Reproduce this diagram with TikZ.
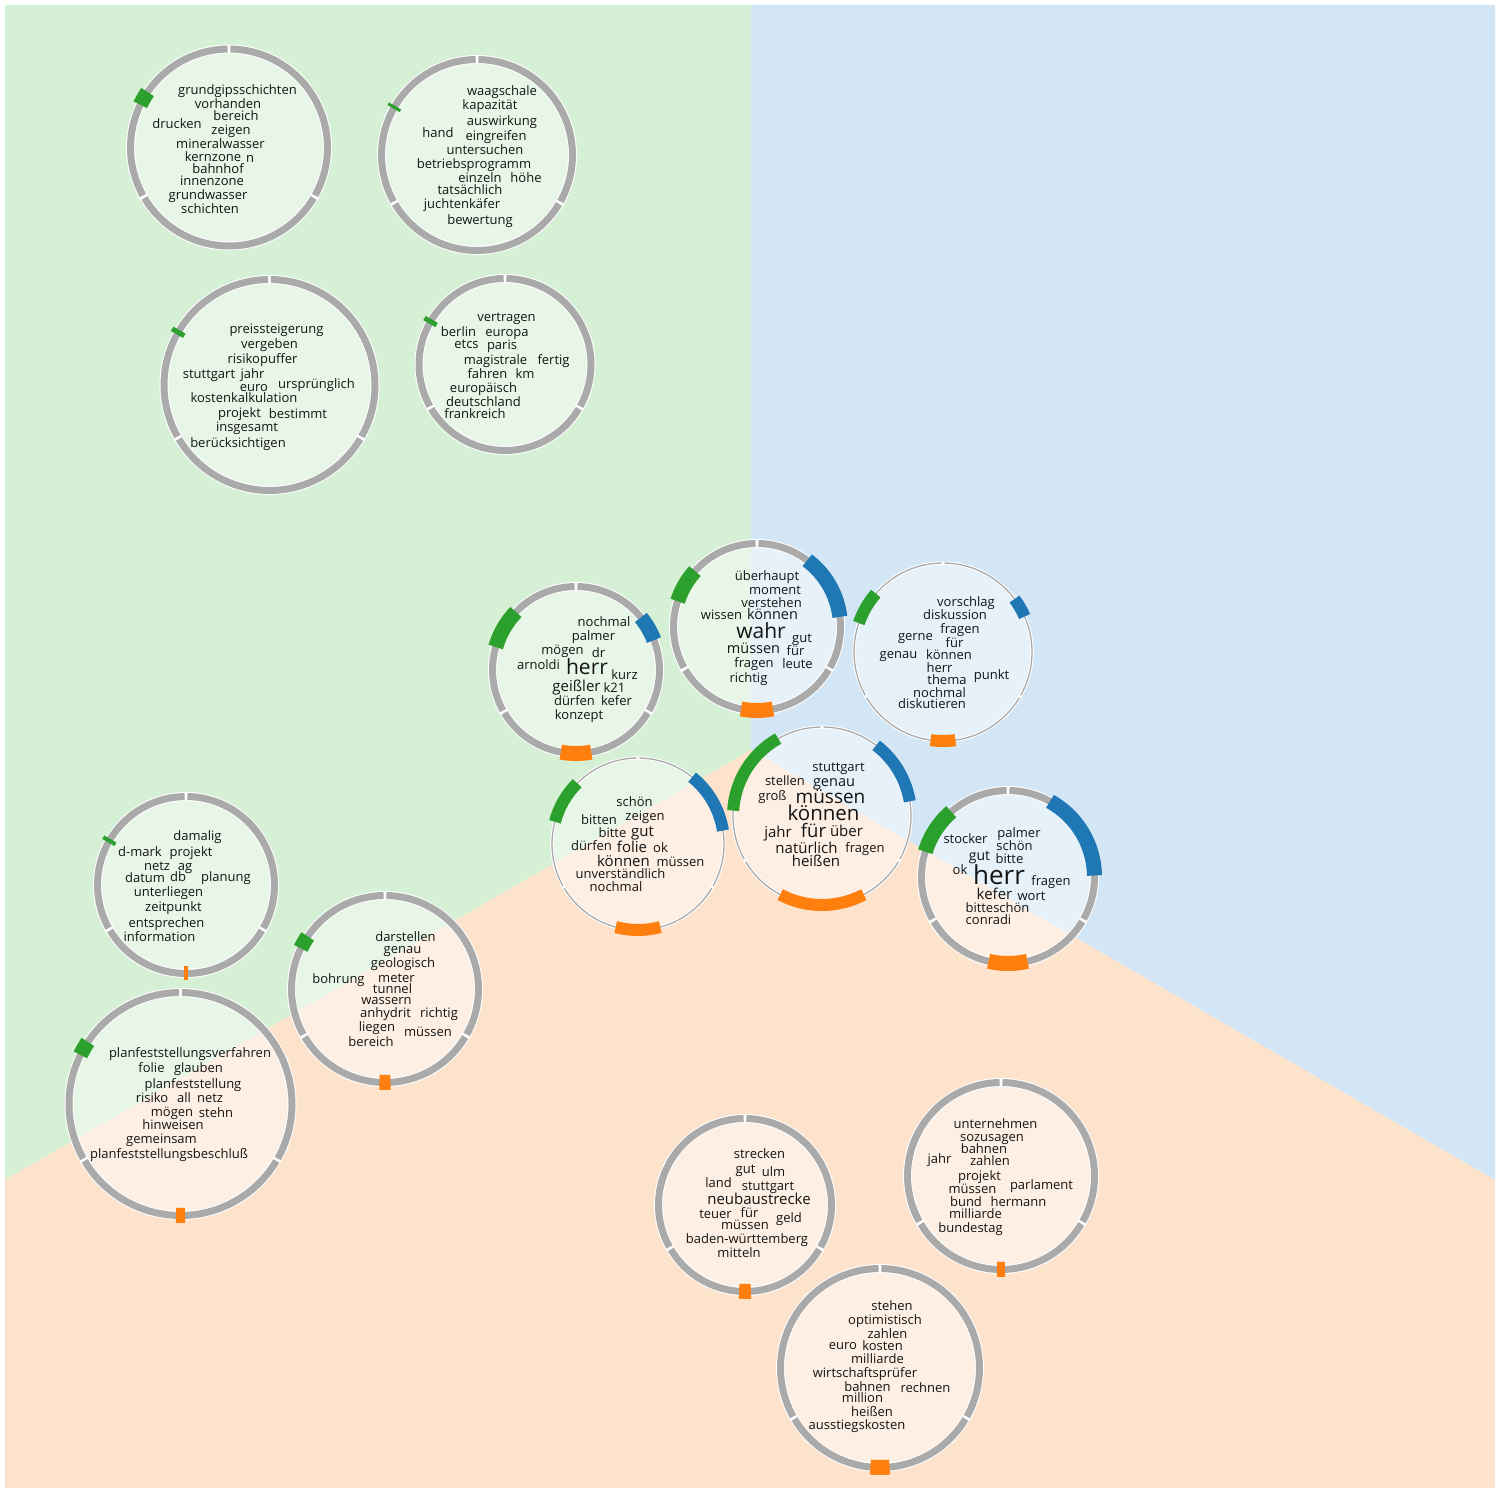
\documentclass[tikz,border=0pt]{standalone}
\usepackage{fontspec}
\setmainfont{Open Sans}
\definecolor{cgreen}{HTML}{2CA02C}
\definecolor{cblue}{HTML}{1F77B4}
\definecolor{corange}{HTML}{FF7F0E}
\definecolor{ringgray}{HTML}{AAAAAA}
\definecolor{bggreen}{HTML}{D5F0D5}
\definecolor{bgblue}{HTML}{D2E6F5}
\definecolor{bgorange}{HTML}{FDE2CC}
\tikzset{
  disc/.style={circle, fill=white, fill opacity=0.45, inner sep=0pt, draw=none},
  w/.style={inner sep=0pt, anchor=mid, yshift=-2.5pt, font=\fontsize{13}{13}\selectfont, text=black!92},
}
\newcommand\wring[5]{% cx cy r lw name
  \node[disc, minimum size={2*#3pt}] (#5) at (#1,#2) {};
  \pgfmathsetmacro\wwl{#4+2}
  \draw[white, line width=\wwl] (#1,#2) circle[radius=#3];
  \pgfmathsetmacro\wgap{1.4/#3*57.3}
  \foreach \s in {90,210,330}{
    \pgfmathsetmacro\wsa{-(\s+\wgap)}
    \pgfmathsetmacro\wsb{-(\s+120-\wgap)}
    \draw[ringgray, line width=#4] (#1,#2) ++(\wsa:#3) arc[start angle=\wsa, end angle=\wsb, radius=#3];
  }
}
\newcommand\wmark[7]{% cx cy r angle width color lw
  \pgfmathsetmacro\wmA{-(#4-#5/2)}
  \pgfmathsetmacro\wmB{-(#4+#5/2)}
  \draw[#6, line width=#7] (#1,#2) ++(\wmA:#3) arc[start angle=\wmA, end angle=\wmB, radius=#3];
}
\begin{document}
\begin{tikzpicture}[x=1pt, y=-1pt]
\useasboundingbox (0,0) rectangle (1500,1493);
\fill[white] (0,0) rectangle (1500,1493);
% regions
\fill[bggreen] (5,5) -- (751,5) -- (751,750) -- (5,1180) -- cycle;
\fill[bgblue] (751,5) -- (1495,5) -- (1495,1180) -- (751,750) -- cycle;
\fill[bgorange] (5,1180) -- (751,750) -- (1495,1180) -- (1495,1488) -- (5,1488) -- cycle;

% circles
\wring{229}{147.5}{98.5}{7}{cA}
\wmark{229}{147.5}{98.5}{150}{8.5}{cgreen}{15}
\wring{477}{155}{95.5}{7}{cB}
\wmark{477}{155}{95.5}{150}{1.8}{cgreen}{14}
\wring{269.5}{385}{105.5}{7}{cC}
\wmark{269.5}{385}{105.5}{150}{2.7}{cgreen}{14}
\wring{505}{364.5}{86}{7}{cD}
\wmark{505}{364.5}{86}{150}{3.2}{cgreen}{14}
\wring{576}{670}{83.5}{7}{cE}
\wmark{576}{670}{83.5}{150}{28}{cgreen}{15}
\wmark{576}{670}{83.5}{30}{18}{cblue}{15}
\wmark{576}{670}{83.5}{270}{21}{corange}{15}
\wring{757}{627}{83.5}{7}{cF}
\wmark{757}{627}{83.5}{150}{24}{cgreen}{15}
\wmark{757}{627}{83.5}{30}{46}{cblue}{15}
\wmark{757}{627}{83.5}{270}{22}{corange}{15}
\wring{943}{652}{89}{1.3}{cG}
\wmark{943}{652}{89}{150}{22}{cgreen}{12}
\wmark{943}{652}{89}{30}{13}{cblue}{12}
\wmark{943}{652}{89}{270}{16}{corange}{12}
\wring{638}{844}{86}{1.3}{cH}
\wmark{638}{844}{86}{150}{30}{cgreen}{12}
\wmark{638}{844}{86}{30}{42}{cblue}{12}
\wmark{638}{844}{86}{270}{30}{corange}{12}
\wring{822}{816}{89}{1.3}{cI}
\wmark{822}{816}{89}{148}{57}{cgreen}{12}
\wmark{822}{816}{89}{31}{43}{cblue}{12}
\wmark{822}{816}{89}{270}{56}{corange}{12}
\wring{1008}{877}{86.5}{7}{cJ}
\wmark{1008}{877}{86.5}{147}{32}{cgreen}{15}
\wmark{1008}{877}{86.5}{31}{60}{cblue}{15}
\wmark{1008}{877}{86.5}{270}{26}{corange}{15}
\wring{186}{885}{88.5}{7}{cK}
\wmark{186}{885}{88.5}{150}{2.6}{cgreen}{14}
\wmark{186}{885}{88.5}{270}{2.6}{corange}{14}
\wring{385}{989}{93.5}{7}{cL}
\wmark{385}{989}{93.5}{150}{8.5}{cgreen}{15}
\wmark{385}{989}{93.5}{270}{6.7}{corange}{15}
\wring{180.5}{1104}{111.5}{7}{cM}
\wmark{180.5}{1104}{111.5}{150}{7.7}{cgreen}{15}
\wmark{180.5}{1104}{111.5}{270}{4.6}{corange}{15}
\wring{745}{1205}{86.5}{7}{cN}
\wmark{745}{1205}{86.5}{270}{7.8}{corange}{15}
\wring{1001}{1176}{93.5}{7}{cO}
\wmark{1001}{1176}{93.5}{270}{4.9}{corange}{15}
\wring{880}{1368}{99.5}{7}{cP}
\wmark{880}{1368}{99.5}{270}{11}{corange}{15}

% words A
\node[w] (a1) at (237.5,89) {grundgipsschichten};
\node[w] (a2) at (228,103) {vorhanden};
\node[w] (a3) at (236,115) {bereich};
\node[w] (a4) at (177,123) {drucken};
\node[w] (a5) at (231,129) {zeigen};
\node[w] (a6) at (220.5,143) {mineralwasser};
\node[w] (a7) at (213,156) {kernzone};
\node[w] (a8) at (250,157) {n};
\node[w] (a9) at (218,168) {bahnhof};
\node[w] (a10) at (212,180) {innenzone};
\node[w] (a11) at (208,194) {grundwasser};
\node[w] (a12) at (210,208) {schichten};
% words B
\node[w] (b1) at (502,90) {waagschale};
\node[w] (b2) at (490,104) {kapazität};
\node[w] (b3) at (502,120) {auswirkung};
\node[w] (b4) at (438,132) {hand};
\node[w] (b5) at (496,135) {eingreifen};
\node[w] (b6) at (485,149) {untersuchen};
\node[w] (b7) at (474,163) {betriebsprogramm};
\node[w] (b8) at (480,177) {einzeln};
\node[w] (b9) at (526,177) {höhe};
\node[w] (b10) at (470,189) {tatsächlich};
\node[w] (b11) at (462,203) {juchtenkäfer};
\node[w] (b12) at (480,219) {bewertung};
% words C
\node[w] (c1) at (276.5,328) {preissteigerung};
\node[w] (c2) at (269.5,343) {vergeben};
\node[w] (c3) at (262.5,358) {risikopuffer};
\node[w] (c4) at (209,373) {stuttgart};
\node[w] (c5) at (252.5,373) {jahr};
\node[w] (c6) at (254,386) {euro};
\node[w] (c7) at (316.5,383) {ursprünglich};
\node[w] (c8) at (244,397) {kostenkalkulation};
\node[w] (c9) at (239.5,412) {projekt};
\node[w] (c10) at (298,413) {bestimmt};
\node[w] (c11) at (247,426) {insgesamt};
\node[w] (c12) at (238,442) {berücksichtigen};
% words D
\node[w] (d1) at (506.5,316) {vertragen};
\node[w] (d2) at (458.5,331) {berlin};
\node[w] (d3) at (507,331) {europa};
\node[w] (d4) at (466.5,343) {etcs};
\node[w] (d5) at (502,344) {paris};
\node[w] (d6) at (495.5,359) {magistrale};
\node[w] (d7) at (553.5,359) {fertig};
\node[w] (d8) at (487.5,373) {fahren};
\node[w] (d9) at (525,373) {km};
\node[w] (d10) at (483.5,387) {europäisch};
\node[w] (d11) at (483.5,401) {deutschland};
\node[w] (d12) at (475,413) {frankreich};
% words E
\node[w] (e1) at (604,621) {nochmal};
\node[w] (e2) at (593.5,635) {palmer};
\node[w] (e3) at (562.5,649) {mögen};
\node[w] (e4) at (598.5,652) {dr};
\node[w] (e5) at (538.5,664) {arnoldi};
\node[w, font=\fontsize{21}{21}\selectfont] (e6) at (587,669) {herr};
\node[w] (e7) at (624.5,674) {kurz};
\node[w, font=\fontsize{15}{15}\selectfont] (e8) at (576.5,686) {geißler};
\node[w] (e9) at (614.5,687) {k21};
\node[w] (e10) at (574.5,700) {dürfen};
\node[w] (e11) at (616.5,700) {kefer};
\node[w] (e12) at (579,714) {konzept};
% words F
\node[w] (f1) at (767,575) {überhaupt};
\node[w] (f2) at (775,589) {moment};
\node[w] (f3) at (771.5,602) {verstehen};
\node[w] (f4) at (721.5,614) {wissen};
\node[w, font=\fontsize{14.5}{14.5}\selectfont] (f5) at (772.5,614) {können};
\node[w, font=\fontsize{21}{21}\selectfont] (f6) at (761,633) {wahr};
\node[w] (f7) at (802,637) {gut};
\node[w, font=\fontsize{14.5}{14.5}\selectfont] (f8) at (753.5,648) {müssen};
\node[w] (f9) at (795.5,650) {für};
\node[w] (f10) at (754,662) {fragen};
\node[w] (f11) at (797.5,663) {leute};
\node[w] (f12) at (748.5,677) {richtig};
% words G
\node[w] (g1) at (966,601) {vorschlag};
\node[w] (g2) at (955,614) {diskussion};
\node[w] (g3) at (960,628) {fragen};
\node[w] (g4) at (915.5,635) {gerne};
\node[w] (g5) at (954.5,642) {für};
\node[w] (g6) at (898.5,653) {genau};
\node[w] (g7) at (949,654) {können};
\node[w] (g8) at (939.5,667) {herr};
\node[w] (g9) at (991.5,674) {punkt};
\node[w] (g10) at (947,679) {thema};
\node[w] (g11) at (939.5,692) {nochmal};
\node[w] (g12) at (932,703) {diskutieren};
% words H
\node[w] (h1) at (634.5,801) {schön};
\node[w] (h2) at (645,815) {zeigen};
\node[w] (h3) at (599,819) {bitten};
\node[w] (h4) at (612.5,832) {bitte};
\node[w, font=\fontsize{15}{15}\selectfont] (h5) at (642.5,831) {gut};
\node[w] (h6) at (591.5,845) {dürfen};
\node[w, font=\fontsize{15}{15}\selectfont] (h7) at (632,847) {folie};
\node[w] (h8) at (660.5,847) {ok};
\node[w, font=\fontsize{15}{15}\selectfont] (h9) at (623.5,861) {können};
\node[w] (h10) at (680.5,861) {müssen};
\node[w] (h11) at (620.5,873) {unverständlich};
\node[w] (h12) at (616,886) {nochmal};
% words I
\node[w] (i1) at (838.5,766) {stuttgart};
\node[w] (i2) at (785,780) {stellen};
\node[w, font=\fontsize{14.5}{14.5}\selectfont] (i3) at (834,781) {genau};
\node[w] (i4) at (772.5,795) {groß};
\node[w, font=\fontsize{19}{19}\selectfont] (i5) at (830.5,798) {müssen};
\node[w, font=\fontsize{20.5}{20.5}\selectfont] (i6) at (823.5,815) {können};
\node[w, font=\fontsize{15}{15}\selectfont] (i7) at (778,832) {jahr};
\node[w, font=\fontsize{18.5}{18.5}\selectfont] (i8) at (813.5,832) {für};
\node[w, font=\fontsize{15}{15}\selectfont] (i9) at (846.5,831) {über};
\node[w, font=\fontsize{15}{15}\selectfont] (i10) at (806.5,848) {natürlich};
\node[w] (i11) at (865,847) {fragen};
\node[w, font=\fontsize{15}{15}\selectfont] (i12) at (816,861) {heißen};
% words J
\node[w] (j1) at (965.5,838) {stocker};
\node[w] (j2) at (1019,832) {palmer};
\node[w] (j3) at (1014.5,845) {schön};
\node[w, font=\fontsize{14}{14}\selectfont] (j4) at (979.5,855) {gut};
\node[w] (j5) at (1009.5,858) {bitte};
\node[w] (j6) at (960,869) {ok};
\node[w, font=\fontsize{26}{26}\selectfont] (j7) at (999,879) {herr};
\node[w] (j8) at (1051,880) {fragen};
\node[w, font=\fontsize{15}{15}\selectfont] (j9) at (994.5,894) {kefer};
\node[w] (j10) at (1031.5,895) {wort};
\node[w] (j11) at (997.5,907) {bitteschön};
\node[w] (j12) at (988.5,919) {conradi};
% words K
\node[w] (k1) at (197.5,835) {damalig};
\node[w] (k2) at (140,851) {d-mark};
\node[w] (k3) at (191,851) {projekt};
\node[w] (k4) at (157,865) {netz};
\node[w] (k5) at (185,865) {ag};
\node[w] (k6) at (145,877) {datum};
\node[w] (k7) at (178,876) {db};
\node[w] (k8) at (226,876) {planung};
\node[w] (k9) at (168.5,891) {unterliegen};
\node[w] (k10) at (173.5,906) {zeitpunkt};
\node[w] (k11) at (166.5,922) {entsprechen};
\node[w] (k12) at (159.5,936) {information};
% words L
\node[w] (l1) at (405.5,936) {darstellen};
\node[w] (l2) at (402.5,948) {genau};
\node[w] (l3) at (403,962) {geologisch};
\node[w] (l4) at (338.5,978) {bohrung};
\node[w] (l5) at (396.5,977) {meter};
\node[w] (l6) at (392.5,988) {tunnel};
\node[w] (l7) at (386.5,999) {wassern};
\node[w] (l8) at (385.5,1012) {anhydrit};
\node[w] (l9) at (439,1012) {richtig};
\node[w] (l10) at (377,1026) {liegen};
\node[w] (l11) at (428,1031) {müssen};
\node[w] (l12) at (371,1041) {bereich};
% words M
\node[w] (m1) at (190,1052) {planfeststellungsverfahren};
\node[w] (m2) at (151.5,1067) {folie};
\node[w] (m3) at (198.5,1067) {glauben};
\node[w] (m4) at (193,1083) {planfeststellung};
\node[w] (m5) at (152,1097) {risiko};
\node[w] (m6) at (184,1097) {all};
\node[w] (m7) at (210,1097) {netz};
\node[w] (m8) at (172,1111) {mögen};
\node[w] (m9) at (216,1112) {stehn};
\node[w] (m10) at (173,1124) {hinweisen};
\node[w] (m11) at (161.5,1138) {gemeinsam};
\node[w] (m12) at (169,1153) {planfeststellungsbeschluß};
% words N
\node[w] (n1) at (759.5,1153) {strecken};
\node[w] (n2) at (745.5,1168) {gut};
\node[w] (n3) at (773.5,1171) {ulm};
\node[w] (n4) at (718.5,1182) {land};
\node[w] (n5) at (768,1185) {stuttgart};
\node[w, font=\fontsize{15}{15}\selectfont] (n6) at (759,1199) {neubaustrecke};
\node[w] (n7) at (715.5,1213) {teuer};
\node[w] (n8) at (749.5,1212) {für};
\node[w] (n9) at (789,1217) {geld};
\node[w] (n10) at (745,1224) {müssen};
\node[w] (n11) at (747,1238) {baden-württemberg};
\node[w] (n12) at (739,1252) {mitteln};
% words O
\node[w] (o1) at (995.5,1123) {unternehmen};
\node[w] (o2) at (992,1136) {sozusagen};
\node[w] (o3) at (984,1148) {bahnen};
\node[w] (o4) at (939.5,1158) {jahr};
\node[w] (o5) at (990,1160) {zahlen};
\node[w] (o6) at (979.5,1175) {projekt};
\node[w] (o7) at (1041.5,1184) {parlament};
\node[w] (o8) at (972.5,1188) {müssen};
\node[w] (o9) at (966,1201) {bund};
\node[w] (o10) at (1018.5,1201) {hermann};
\node[w] (o11) at (975.5,1213) {milliarde};
\node[w] (o12) at (970.5,1227) {bundestag};
% words P
\node[w] (p1) at (892,1305) {stehen};
\node[w] (p2) at (885,1319) {optimistisch};
\node[w] (p3) at (887.5,1333) {zahlen};
\node[w] (p4) at (843,1344) {euro};
\node[w] (p5) at (882.5,1345) {kosten};
\node[w] (p6) at (877.5,1358) {milliarde};
\node[w] (p7) at (865,1372) {wirtschaftsprüfer};
\node[w] (p8) at (867.5,1386) {bahnen};
\node[w] (p9) at (925.5,1387) {rechnen};
\node[w] (p10) at (862.5,1397) {million};
\node[w] (p11) at (872,1411) {heißen};
\node[w] (p12) at (857,1424) {ausstiegskosten};
\end{tikzpicture}
\end{document}
